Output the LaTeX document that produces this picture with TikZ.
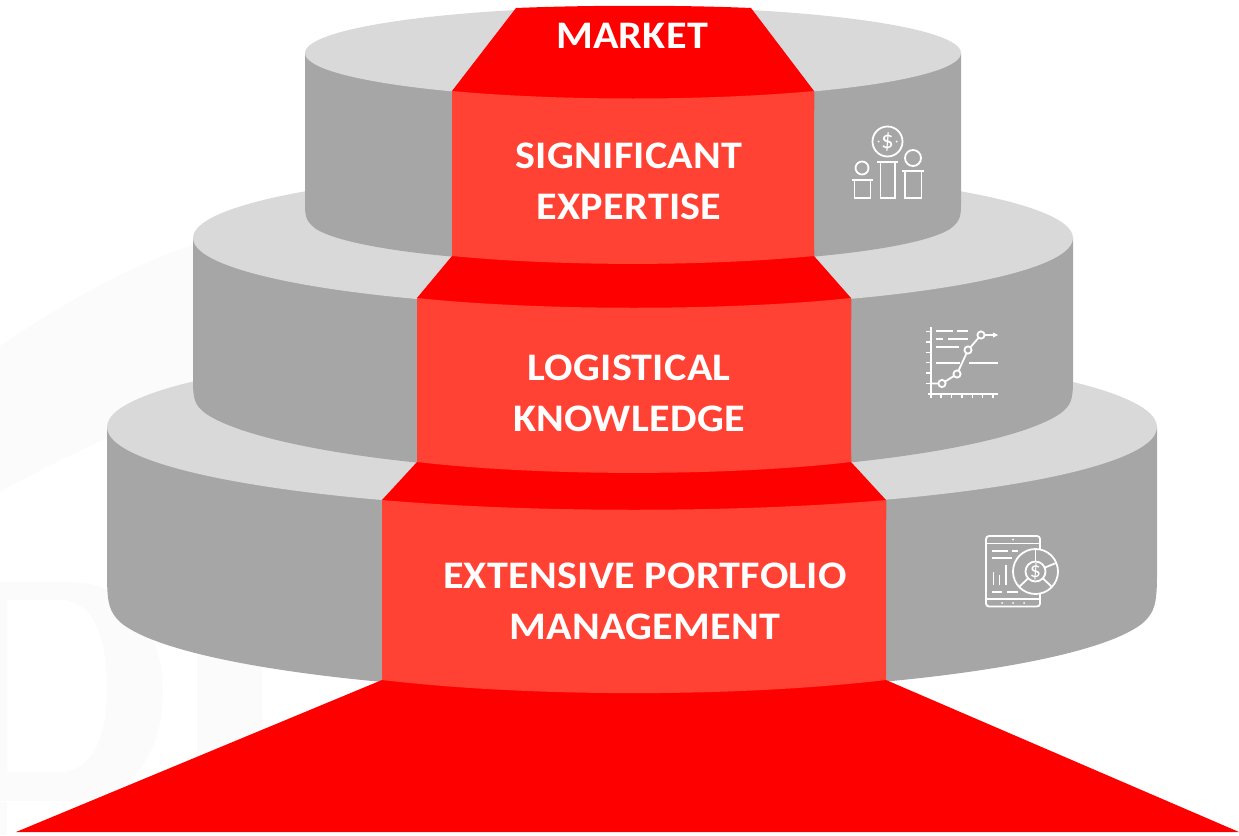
\documentclass[tikz,border=0pt]{standalone}
\usepackage{fontspec}
\setmainfont{Carlito}
\usetikzlibrary{arrows.meta}
\definecolor{tierside}{HTML}{A6A6A6}
\definecolor{tiertop}{HTML}{D9D9D9}
\definecolor{stepred}{HTML}{FF0000}
\definecolor{panelred}{HTML}{FF4233}
\definecolor{markgray}{HTML}{FBFBFB}
\tikzset{
	tierlabel/.style={anchor=center, align=center, text=white, font=\fontsize{39}{51}\selectfont\bfseries\addfontfeatures{FakeStretch=1.08, LetterSpace=0.7}},
	iconline/.style={draw=white, line width=1.8pt},
	icondollar/.style={anchor=center, inner sep=0pt, text=white},
}
\begin{document}
\begin{tikzpicture}[x=1pt, y=-1pt]
	\useasboundingbox (0,0) rectangle (1239,835);

	% faint mark behind the tiers
	\fill[markgray]
		(0,346) .. controls (60,305) and (130,265) .. (193,245) -- (300,245) -- (300,400)
		-- (107,438) .. controls (70,455) and (30,475) .. (0,492) -- cycle;
	\fill[markgray, even odd rule]
		(0,582) -- (70,582) .. controls (135,582) and (163,640) .. (163,690)
		.. controls (163,750) and (135,801) .. (70,801) -- (0,801) -- cycle
		(7,600) -- (7,772) -- (60,772) .. controls (95,772) and (107,730) .. (107,690)
		.. controls (107,640) and (95,600) .. (60,600) -- cycle;
	\fill[markgray]
		(197,655) rectangle (262,760);
	\fill[markgray]
		(0,802) rectangle (7,835);

	% lower tier
	\fill[tierside]
		(107,427) -- (107,575) .. controls (107,605) and (110,612) .. (120,622)
		.. controls (170,665) and (400,693) .. (632,693)
		.. controls (864,693) and (1094,665) .. (1144,622)
		.. controls (1154,612) and (1157,605) .. (1157,575) -- (1157,427) -- cycle;
	\fill[tiertop]
		(632,427) circle[x radius=525, y radius=83];

	% middle tier
	\fill[tierside]
		(193,238) -- (193,380) .. controls (193,400) and (195,405) .. (205,413)
		.. controls (250,445) and (420,473) .. (633,473)
		.. controls (846,473) and (1016,445) .. (1061,413)
		.. controls (1071,405) and (1073,400) .. (1073,380) -- (1073,238) -- cycle;
	\fill[tiertop]
		(633,238) circle[x radius=440, y radius=70];

	% top tier
	\fill[tierside]
		(305,53) -- (305,205) .. controls (305,218) and (307,222) .. (316,229)
		.. controls (350,250) and (480,264) .. (633,264)
		.. controls (786,264) and (916,250) .. (950,229)
		.. controls (959,222) and (961,218) .. (961,205) -- (961,53) -- cycle;
	\fill[tiertop]
		(633,53) circle[x radius=328, y radius=46];

	% red steps
	\fill[stepred]
		(516,8) .. controls (590,5) and (680,5) .. (751,8) -- (814,91) -- (814,110) -- (452,110) -- (452,91) -- cycle;
	\fill[stepred]
		(452,250) -- (814,250) -- (814,256) -- (851,298) -- (851,320) -- (417,320) -- (417,298) -- (452,256) -- cycle;
	\fill[stepred]
		(417,455) -- (851,455) -- (851,462) -- (886,500) -- (886,520) -- (382,520) -- (382,500) -- (417,462) -- cycle;
	\fill[stepred]
		(382,680) -- (886,680) -- (1239,832) -- (16,832) -- cycle;

	% panels
	\fill[panelred]
		(452,91) .. controls (560,101) and (706,101) .. (814,91) -- (814,256)
		.. controls (706,266.5) and (560,266.5) .. (452,256) -- cycle;
	\fill[panelred]
		(417,298) .. controls (540,311) and (728,311) .. (851,298) -- (851,462)
		.. controls (728,476.5) and (540,476.5) .. (417,462) -- cycle;
	\fill[panelred]
		(382,500) .. controls (530,513) and (738,513) .. (886,500) -- (886,680)
		.. controls (738,697.5) and (530,697.5) .. (382,680) -- cycle;

	% labels
	\node[tierlabel] (market) at (632,35.5) {MARKET};
	\node[tierlabel] (expertise) at (629,181.5) {SIGNIFICANT\\EXPERTISE};
	\node[tierlabel] (knowledge) at (629,393) {LOGISTICAL\\KNOWLEDGE};
	\node[tierlabel] (portfolio) at (645,601.5) {EXTENSIVE PORTFOLIO\\MANAGEMENT};

	% icon on the top tier
	\draw[iconline] (887.5,141.5) circle (15);
	\node[icondollar, font=\fontsize{25}{25}\selectfont] (coin) at (887.5,141.5) {\$};
	\fill[white] (878.5,141.5) circle (1) (896.5,141.5) circle (1);
	\draw[iconline] (862,168) circle (6.5);
	\draw[iconline] (913,158) circle (8);
	\draw[iconline] (852,180) -- (873,180);
	\draw[iconline] (854.5,180) -- (854.5,198) -- (870.5,198) -- (870.5,180);
	\draw[iconline] (877,162) -- (898,162);
	\draw[iconline] (880.5,162) -- (880.5,198) -- (895,198) -- (895,162);
	\draw[iconline] (902,171) -- (924,171);
	\draw[iconline] (905,171) -- (905,198) -- (921.5,198) -- (921.5,171);

	% icon on the middle tier
	\draw[iconline] (931,327) -- (931,398);
	\draw[iconline] (928,394) -- (998,394);
	\foreach \i in {0,1,...,5}{
		\draw[iconline, line width=1.4pt]
			(926,{383.5-10.4*\i}) -- (931,{383.5-10.4*\i});
		\draw[iconline, line width=1.4pt]
			({941+10.4*\i},394) -- ({941+10.4*\i},398);
	}
	\draw[iconline] (936,331) -- (953,331) (957,331) -- (968,331);
	\draw[iconline] (936,339) -- (943,339) (948,339) -- (968,339);
	\draw[iconline] (936,347) -- (959,347);
	\draw[iconline] (936,363) -- (960,363) (969,363) -- (998,363);
	\draw[iconline] (931,383.5) -- (942,383.5) -- (957,374) -- (968,350) -- (981,335)
		-- (995,335);
	\fill[white] (998,335) -- (993,332.5) -- (993,337.5) -- cycle;
	\foreach \x/\y in {942/383.5, 957/374, 968/350, 981/335}{
		\filldraw[draw=white, fill=tierside, line width=1.8pt]
			(\x,\y) circle (3.6);
	}

	% icon on the lower tier
	\draw[iconline, rounded corners=3pt] (986,536) rectangle (1040,606.5);
	\draw[iconline] (986,543.5) -- (1040,543.5);
	\draw[iconline] (986,599) -- (1040,599);
	\fill[white] (1013,539.7) circle (1);
	\foreach \x in {1002,1013,1024}{
		\fill[white] (\x,603) circle (1);
	}
	\draw[iconline] (992,551) -- (1008,551) (1012,551) -- (1018,551);
	\draw[iconline] (992,558) -- (1012,558);
	\draw[iconline] (993.5,572) -- (993.5,585);
	\draw[iconline] (999.5,575) -- (999.5,585);
	\draw[iconline] (1006,565) -- (1006,585);
	\draw[iconline] (992,592) -- (1002,592) (1007,592) -- (1018,592);
	\filldraw[draw=white, fill=tierside, line width=1.8pt]
		(1035.5,571.5) circle (22.5);
	\draw[iconline] (1035.5,571.5) circle (10);
	\node[icondollar, font=\fontsize{22}{22}\selectfont] (pie) at (1035.5,571.5) {\$};
	\draw[iconline] (1035.5,561.5) -- (1035.5,549);
	\draw[iconline] (1045,567.5) -- (1056,563);
	\draw[iconline] (1043,578.5) -- (1052,587);
	\draw[iconline] (1028,578.5) -- (1019,587);
\end{tikzpicture}
\end{document}
